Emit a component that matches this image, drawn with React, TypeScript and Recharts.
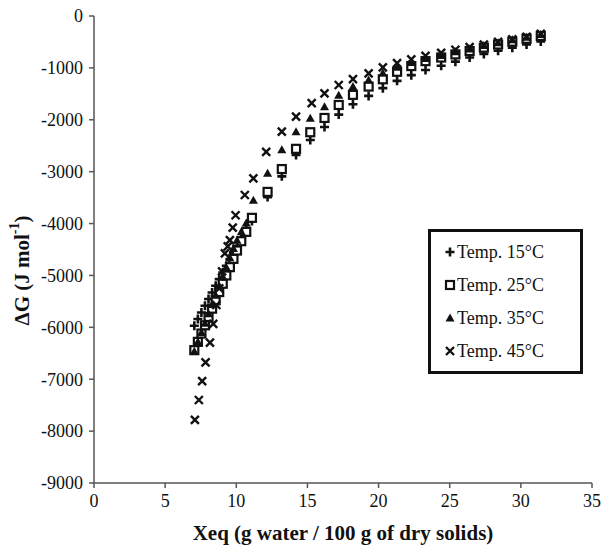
import React from 'react';
import { ScatterChart, Scatter, XAxis, YAxis, Legend, Label } from 'recharts';

// Temp. 15°C
const x15 = [7.05, 7.3, 7.55, 7.8, 8.05, 8.3, 8.55, 8.8, 9.05, 9.3, 9.55, 9.8, 10.05, 10.35, 10.7, 11.1, 12.2, 13.2, 14.2, 15.2, 16.2, 17.2, 18.2, 19.3, 20.3, 21.3, 22.3, 23.3, 24.4, 25.4, 26.4, 27.4, 28.4, 29.4, 30.4, 31.4];
const g15 = [-5970, -5840, -5715, -5585, -5455, -5330, -5200, -5070, -4945, -4815, -4685, -4560, -4430, -4280, -4100, -3950, -3490, -3090, -2680, -2390, -2140, -1900, -1700, -1540, -1390, -1250, -1140, -1040, -960, -880, -800, -730, -670, -610, -550, -490];

// Temp. 25°C
const x25 = [7.05, 7.3, 7.55, 7.8, 8.05, 8.3, 8.55, 8.8, 9.05, 9.3, 9.55, 9.8, 10.05, 10.35, 10.7, 11.1, 12.2, 13.2, 14.2, 15.2, 16.2, 17.2, 18.2, 19.3, 20.3, 21.3, 22.3, 23.3, 24.4, 25.4, 26.4, 27.4, 28.4, 29.4, 30.4, 31.4];
const g25 = [-6440, -6280, -6120, -5960, -5800, -5640, -5480, -5320, -5160, -5000, -4840, -4680, -4520, -4340, -4160, -3890, -3390, -2950, -2560, -2240, -1965, -1715, -1520, -1360, -1220, -1075, -965, -870, -800, -740, -675, -610, -550, -495, -440, -385];

// Temp. 35°C
const x35 = [7.05, 7.3, 7.55, 7.8, 8.05, 8.3, 8.55, 8.8, 9.05, 9.3, 9.55, 9.8, 10.05, 10.35, 10.7, 11.2, 12.2, 13.2, 14.2, 15.2, 16.2, 17.2, 18.2, 19.3, 20.3, 21.3, 22.3, 23.3, 24.4, 25.4, 26.4, 27.4, 28.4, 29.4, 30.4, 31.4];
const g35 = [-6460, -6280, -6100, -5920, -5740, -5560, -5380, -5200, -5020, -4840, -4660, -4480, -4320, -4160, -3990, -3550, -3030, -2580, -2230, -1970, -1750, -1525, -1360, -1235, -1100, -990, -895, -820, -760, -690, -635, -570, -515, -460, -410, -355];

// Temp. 45°C
const x45 = [7.09, 7.37, 7.6, 7.84, 8.15, 8.38, 8.6, 8.8, 9.0, 9.2, 9.4, 9.55, 9.75, 9.95, 10.6, 11.2, 12.1, 13.2, 14.2, 15.3, 16.2, 17.2, 18.2, 19.3, 20.3, 21.3, 22.3, 23.3, 24.4, 25.4, 26.4, 27.4, 28.4, 29.4, 30.4, 31.4];
const g45 = [-7785, -7400, -7035, -6675, -6295, -5935, -5570, -5250, -4920, -4575, -4440, -4320, -4080, -3840, -3450, -3130, -2620, -2230, -1940, -1680, -1490, -1330, -1215, -1105, -990, -910, -835, -770, -710, -650, -600, -550, -500, -450, -400, -345];

const seriesNames = ['Temp. 15°C', 'Temp. 25°C', 'Temp. 35°C', 'Temp. 45°C'];
const xTicks = [0, 5, 10, 15, 20, 25, 30, 35];
const yTicks = [-9000, -8000, -7000, -6000, -5000, -4000, -3000, -2000, -1000, 0];

const toPoints = (xs: number[], gs: number[]) => xs.map((x, i) => ({ x, y: gs[i] }));

const INK = '#111';
const AXIS = '#555';
const FONT = 'Liberation Serif';

const PlusShape = (p: any) => {
  const { cx, cy } = p;
  if (cx == null || cy == null) return null;
  return <path d={`M${cx - 4.5},${cy}H${cx + 4.5}M${cx},${cy - 4.5}V${cy + 4.5}`} stroke={INK} strokeWidth={2.6} fill="none" />;
};
const SquareShape = (p: any) => {
  const { cx, cy } = p;
  if (cx == null || cy == null) return null;
  return <rect x={cx - 4} y={cy - 4} width={8} height={8} fill="#fff" stroke={INK} strokeWidth={2.2} />;
};
const TriangleShape = (p: any) => {
  const { cx, cy } = p;
  if (cx == null || cy == null) return null;
  return <path d={`M${cx},${cy - 4.5}L${cx + 4.5},${cy + 3.5}L${cx - 4.5},${cy + 3.5}Z`} fill={INK} />;
};
const XShape = (p: any) => {
  const { cx, cy } = p;
  if (cx == null || cy == null) return null;
  return <path d={`M${cx - 4},${cy - 4}L${cx + 4},${cy + 4}M${cx - 4},${cy + 4}L${cx + 4},${cy - 4}`} stroke={INK} strokeWidth={2.4} fill="none" />;
};

const shapes = [PlusShape, SquareShape, TriangleShape, XShape];

const XTick = (p: any) => {
  const { x, y, payload } = p;
  return (
    <text x={x} y={y} dy="0.75em" textAnchor="middle" fontFamily={FONT} fontSize={18} fill={INK}>
      {payload.value}
    </text>
  );
};
const YTick = (p: any) => {
  const { x, y, payload } = p;
  return (
    <text x={x} y={y} dy="0.35em" textAnchor="end" fontFamily={FONT} fontSize={18} fill={INK}>
      {payload.value}
    </text>
  );
};

const LegendBox = () => (
  <div
    style={{
      boxSizing: 'border-box',
      width: 155,
      height: 145,
      border: `3px solid ${INK}`,
      background: '#fff',
      display: 'flex',
      flexDirection: 'column',
      justifyContent: 'space-around',
      padding: '4px 0',
      fontFamily: FONT,
      fontSize: 18,
      color: INK,
    }}
  >
    {seriesNames.map((name, i) => {
      const Shape = shapes[i];
      return (
        <div key={name} style={{ display: 'flex', alignItems: 'center', paddingLeft: 13, lineHeight: '20px' }}>
          <svg width={12} height={12} style={{ marginRight: 1 }}>
            <Shape cx={6} cy={6} />
          </svg>
          <span>{name}</span>
        </div>
      );
    })}
  </div>
);

const YTitle = (props: any) => {
  const vb = props.viewBox || { x: 0, y: 16, width: 94, height: 467 };
  const cx = vb.x + 22;
  const cy = vb.y + vb.height / 2 + 21;
  return (
    <text
      x={cx}
      y={cy}
      transform={`rotate(-90 ${cx} ${cy})`}
      textAnchor="middle"
      dominantBaseline="central"
      fontFamily={FONT}
      fontWeight="bold"
      fontSize={21}
      fill={INK}
    >
      ΔG (J mol<tspan dy={-8} fontSize={14}>-1</tspan>
      <tspan dy={8}>)</tspan>
    </text>
  );
};

const XTitle = (props: any) => {
  const vb = props.viewBox || { x: 94, y: 483, width: 498, height: 66 };
  const cx = vb.x + vb.width / 2;
  const cy = vb.y + 50;
  return (
    <text x={cx} y={cy} textAnchor="middle" dominantBaseline="central" fontFamily={FONT} fontWeight="bold" fontSize={21} fill={INK}>
      Xeq (g water / 100 g of dry solids)
    </text>
  );
};

export default function App() {
  const series = [
    toPoints(x15, g15),
    toPoints(x25, g25),
    toPoints(x35, g35),
    toPoints(x45, g45),
  ];
  return (
    <div style={{ position: 'absolute', left: 0, top: 0, background: '#fff' }}>
      <ScatterChart width={612} height={549} margin={{ top: 16, right: 20, bottom: 0, left: 0 }}>
        <XAxis
          type="number"
          dataKey="x"
          domain={[0, 35]}
          ticks={xTicks}
          interval={0}
          height={66}
          tickSize={5}
          tickMargin={5}
          axisLine={{ stroke: AXIS, strokeWidth: 1.5 }}
          tickLine={{ stroke: AXIS, strokeWidth: 1.5 }}
          tick={<XTick />}
        >
          <Label content={<XTitle />} />
        </XAxis>
        <YAxis
          type="number"
          dataKey="y"
          domain={[-9000, 0]}
          ticks={yTicks}
          interval={0}
          width={94}
          tickSize={5}
          tickMargin={6}
          axisLine={{ stroke: AXIS, strokeWidth: 1.5 }}
          tickLine={{ stroke: AXIS, strokeWidth: 1.5 }}
          tick={<YTick />}
        >
          <Label content={<YTitle />} />
        </YAxis>
        <Legend
          layout="vertical"
          align="center"
          verticalAlign="middle"
          content={<LegendBox />}
          wrapperStyle={{ left: 428, top: 229, width: 155, height: 145 }}
        />
        {series.map((pts, i) => (
          <Scatter
            key={seriesNames[i]}
            name={seriesNames[i]}
            data={pts}
            shape={shapes[i]}
            isAnimationActive={false}
          />
        ))}
      </ScatterChart>
    </div>
  );
}
